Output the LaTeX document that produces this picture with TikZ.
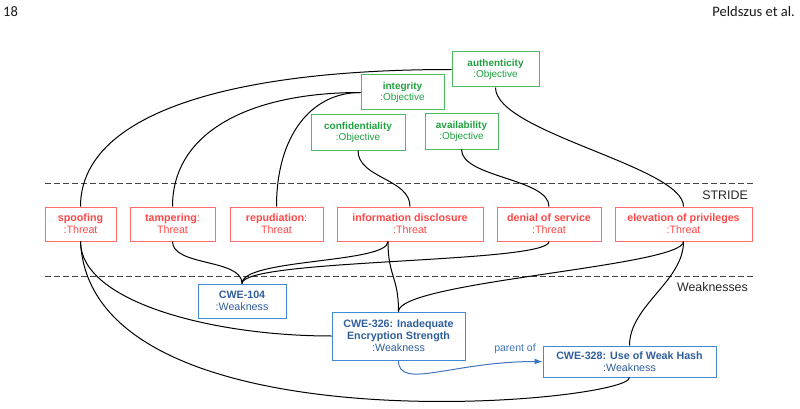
\documentclass[tikz,border=0pt]{standalone}
\usepackage{fontspec}
\setmainfont{Liberation Sans}
\newfontfamily\headfont{Carlito}
\usepackage{xcolor}
\usepackage{tikz}
\usetikzlibrary{arrows.meta}
\definecolor{objgreen}{HTML}{1FA23F}
\definecolor{objframe}{HTML}{4DBA63}
\definecolor{threatred}{HTML}{FF4747}
\definecolor{threatframe}{HTML}{FF6A6A}
\definecolor{weakblue}{HTML}{2F5E9C}
\definecolor{weakframe}{HTML}{4489D4}
\definecolor{linkblue}{HTML}{3F74BC}
\definecolor{rulegray}{HTML}{444444}

\tikzset{
  objective/.style={draw=objframe, text=objgreen, line width=1pt, minimum height=35pt,
    inner sep=1pt, align=center, font=\fontsize{10}{11.7}\selectfont},
  threat/.style={draw=threatframe, text=threatred, line width=1pt, minimum height=34pt,
    inner sep=1pt, align=center, font=\fontsize{10.7}{11.7}\selectfont},
  weakness/.style={draw=weakframe, text=weakblue, line width=1pt,
    inner sep=1pt, align=center, font=\fontsize{10.7}{12}\selectfont},
  tie/.style={line width=1pt, black},
  layer/.style={dashed, dash pattern=on 6pt off 3pt, rulegray, line width=1pt},
  layername/.style={anchor=east, inner sep=0pt, text=black!85, font=\fontsize{12.4}{14}\selectfont},
  header/.style={inner sep=0pt, text=black!90, font=\headfont\fontsize{14.5}{16}\selectfont},
}

\begin{document}
\begin{tikzpicture}[x=1pt, y=-1pt]
\useasboundingbox (0,0) rectangle (800,409);

% page header
\node[header, anchor=west] (pageno) at (3,11.5) {18};
\node[header, anchor=east] (authors) at (795,11.5) {Peldszus et al.};

% layers
\draw[layer] (45,183) -- (755,183);
\draw[layer] (45,276) -- (755,276);
\node[layername] (stride) at (748,195) {STRIDE};
\node[layername] (weaklayer) at (748,287) {Weaknesses};

% objectives
\node[objective, minimum width=87pt] (authenticity) at (495.5,69.5) {\textbf{authenticity}\\:Objective};
\node[objective, minimum width=83pt] (integrity) at (402.5,92.5) {\textbf{integrity}\\:Objective};
\node[objective, minimum width=94pt] (confidentiality) at (358,132.5) {\textbf{confidentiality}\\:Objective};
\node[objective, minimum width=73pt] (availability) at (461.5,131.5) {\textbf{availability}\\:Objective};

% threats
\node[threat, minimum width=71pt] (spoofing) at (80.5,224) {\textbf{spoofing}\\:Threat};
\node[threat, minimum width=85pt] (tampering) at (172.5,224) {\textbf{tampering}:\\Threat};
\node[threat, minimum width=93pt] (repudiation) at (276.5,224) {\textbf{repudiation}:\\Threat};
\node[threat, minimum width=146pt] (disclosure) at (410,224) {\textbf{information disclosure}\\:Threat};
\node[threat, minimum width=104pt] (denial) at (549,224) {\textbf{denial of service}\\:Threat};
\node[threat, minimum width=137pt] (elevation) at (683.5,224) {\textbf{elevation of privileges}\\:Threat};

% weaknesses
\node[weakness, minimum width=88pt, minimum height=34pt] (cwe104) at (242,301) {\textbf{CWE-104}\\:Weakness};
\node[weakness, minimum width=133pt, minimum height=48pt] (cwe326) at (398.5,336) {\textbf{CWE-326: Inadequate}\\\textbf{Encryption Strength}\\:Weakness};
\node[weakness, minimum width=173pt, minimum height=31pt] (cwe328) at (629.5,361.5) {\textbf{CWE-328: Use of Weak Hash}\\:Weakness};

% objectives to threats
\draw[tie] (authenticity.west) .. controls +(-230,0) and +(0,-90) .. (spoofing.north);
\draw[tie] (integrity.west) .. controls +(-110,0) and +(0,-75) .. (tampering.north);
\draw[tie] (integrity.west) .. controls +(-50,0) and +(0,-70) .. (repudiation.north);
\draw[tie] (confidentiality.south) .. controls +(0,28) and +(0,-28) .. (disclosure.north);
\draw[tie] (availability.south) .. controls +(0,28) and +(0,-28) .. (denial.north);
\draw[tie] (authenticity.south) .. controls +(0,45) and +(0,-40) .. (elevation.north);

% threats to weaknesses
\draw[tie] (tampering.south) .. controls +(0,25) and +(0,-25) .. (cwe104.north);
\draw[tie] ([xshift=-22pt]disclosure.south) .. controls +(0,22) and +(0,-25) .. (cwe104.north);
\draw[tie] (denial.south) .. controls +(0,22) and +(0,-25) .. (cwe104.north);
\draw[tie] ([xshift=-22pt]disclosure.south) .. controls +(0,35) and +(0,-35) .. (cwe326.north);
\draw[tie] (elevation.south) .. controls +(0,25) and +(0,-30) .. (cwe326.north);
\draw[tie] (elevation.south) .. controls +(0,40) and +(0,-40) .. (cwe328.north);
\draw[tie] (spoofing.south) .. controls +(0,60) and +(-120,0) .. (cwe326.west);
\draw[tie] (spoofing.south) .. controls +(10,212) and +(1,25) .. (cwe328.south);

% parent relation
\draw[line width=1pt, linkblue, -{Latex[length=8pt,width=6pt]}] (cwe326.south) .. controls +(0,30) and +(-90,0) .. (cwe328.west);
\node[inner sep=0pt, text=linkblue, font=\fontsize{10.5}{12}\selectfont] (parentof) at (515,349) {parent of};
\end{tikzpicture}
\end{document}
